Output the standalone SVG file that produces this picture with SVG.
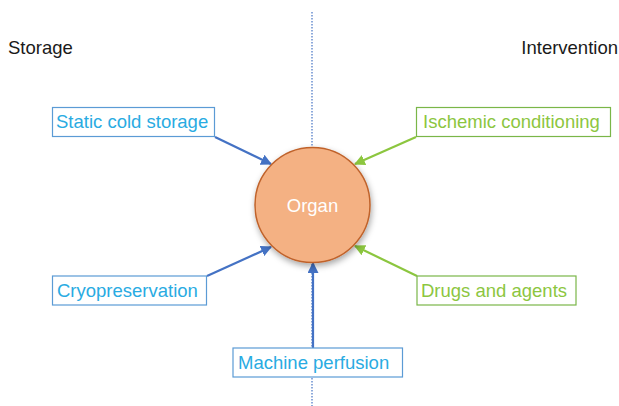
<svg xmlns="http://www.w3.org/2000/svg" width="619" height="406" viewBox="0 0 619 406">
<style>
.hdr{font-family:"Liberation Sans",Arial,sans-serif;font-size:18.5px;fill:#1a1a1a}
.lbl{font-family:"Liberation Sans",Arial,sans-serif;font-size:18.5px}
.bt{fill:#29ABE2}
.gt{fill:#8CC63F}
.bb{fill:#fff;stroke:#5B9BD5;stroke-width:1.2}
.gb{fill:#fff;stroke:#7AB648;stroke-width:1.2}
.ba{stroke:#4472C4;stroke-width:2.2;fill:none;marker-end:url(#ab)}
.ga{stroke:#8CC63F;stroke-width:2.2;fill:none;marker-end:url(#ag)}
</style>
<defs>
<marker id="ab" viewBox="0 0 10 10" refX="9" refY="5" markerWidth="5" markerHeight="5" orient="auto" markerUnits="strokeWidth"><path d="M0,0L10,5L0,10z" fill="#4472C4"/></marker>
<marker id="ag" viewBox="0 0 10 10" refX="9" refY="5" markerWidth="5" markerHeight="5" orient="auto" markerUnits="strokeWidth"><path d="M0,0L10,5L0,10z" fill="#8CC63F"/></marker>
<filter id="sh" x="-30%" y="-30%" width="160%" height="160%"><feDropShadow dx="1" dy="3" stdDeviation="3" flood-color="#000" flood-opacity="0.35"/></filter>
</defs>
<line x1="312" y1="12" x2="312" y2="406" stroke="#4472C4" stroke-width="1.2" stroke-dasharray="1.5,1.5"/>
<text class="hdr" x="8" y="54">Storage</text>
<text class="hdr" x="618" y="54" text-anchor="end">Intervention</text>
<g id="connectors">
<line class="ba" x1="215" y1="137" x2="271" y2="164"/>
<line class="ba" x1="207" y1="276" x2="271" y2="247"/>
<line class="ba" x1="313" y1="348" x2="313" y2="263"/>
<line class="ga" x1="416" y1="137" x2="355" y2="164"/>
<line class="ga" x1="417" y1="276" x2="355" y2="246"/>
</g>
<g id="organ">
<circle cx="312.5" cy="205" r="57.5" fill="#F4B183" stroke="#C0622A" stroke-width="1.5" filter="url(#sh)"/>
<text class="lbl" x="312.5" y="212" text-anchor="middle" fill="#fff">Organ</text>
</g>
<g id="static">
<rect class="bb" x="52.5" y="107.5" width="162" height="29"/>
<text class="lbl bt" x="56" y="128">Static cold storage</text>
</g>
<g id="cryo">
<rect class="bb" x="52.5" y="276" width="154" height="29"/>
<text class="lbl bt" x="57" y="297">Cryopreservation</text>
</g>
<g id="machine">
<rect class="bb" x="233" y="348" width="169.5" height="29"/>
<text class="lbl bt" x="238" y="369">Machine perfusion</text>
</g>
<g id="ischemic">
<rect class="gb" x="416.5" y="107.5" width="194" height="29"/>
<text class="lbl gt" x="423" y="128">Ischemic conditioning</text>
</g>
<g id="drugs">
<rect class="gb" x="417" y="276" width="159" height="29"/>
<text class="lbl gt" x="421" y="297">Drugs and agents</text>
</g>
</svg>
